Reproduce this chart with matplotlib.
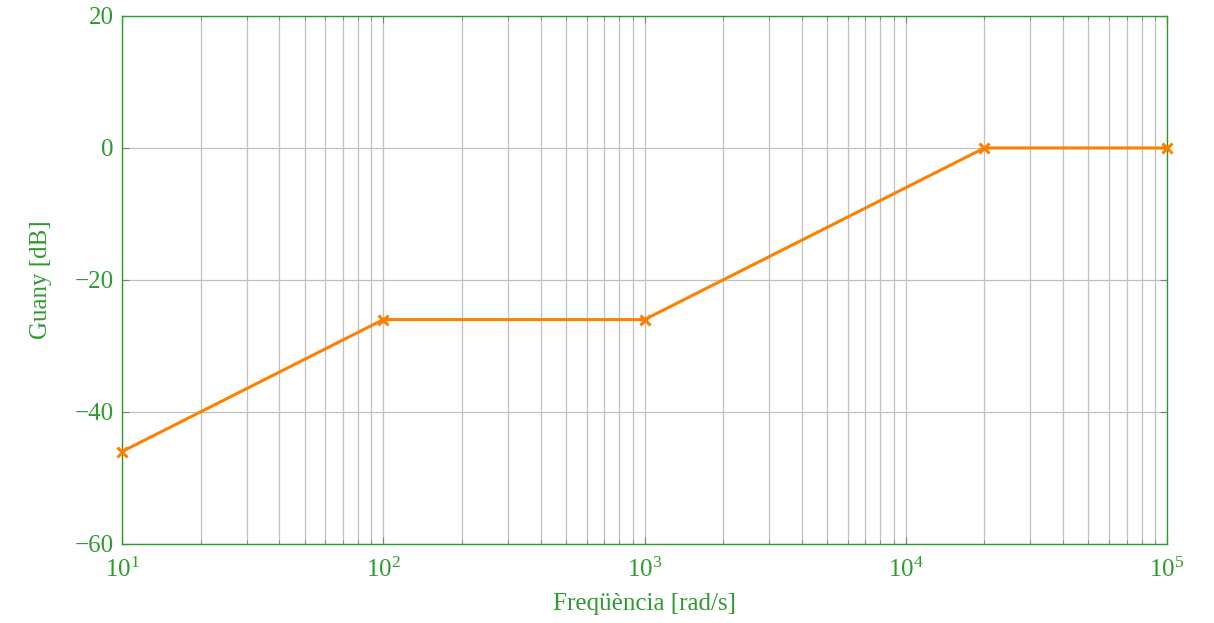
import matplotlib
matplotlib.use("Agg")
import matplotlib.pyplot as plt
from matplotlib.ticker import LogLocator, MultipleLocator

freq = [10, 100, 1000, 20000, 100000]
gain_db = [-46, -26, -26, 0, 0]

green = "#2f9a2f"
orange = "#ff8000"

plt.rcParams["font.family"] = ["Liberation Serif", "DejaVu Serif"]
plt.rcParams["mathtext.fontset"] = "custom"
plt.rcParams["mathtext.rm"] = "Liberation Serif"
plt.rcParams["mathtext.it"] = "Liberation Serif:italic"

fig = plt.figure(figsize=(12.14, 6.23), dpi=100)
ax = fig.add_axes([122 / 1214, 1 - 544 / 623, (1167 - 122) / 1214, (544 - 16) / 623])

ax.plot(freq, gain_db, color=orange, lw=2.2, marker="x", ms=7, mew=2.2, zorder=3, clip_on=False)

ax.set_xscale("log")
ax.set_xlim(10, 1e5)
ax.set_ylim(-60, 20)
ax.yaxis.set_major_locator(MultipleLocator(20))
ax.xaxis.set_major_locator(LogLocator(base=10))
ax.xaxis.set_minor_locator(LogLocator(base=10, subs=range(2, 10)))

ax.grid(True, which="major", color="#c0c0c0", lw=0.9)
ax.grid(True, which="minor", axis="x", color="#c0c0c0", lw=0.9)

for s in ax.spines.values():
    s.set_color(green)
    s.set_linewidth(1.0)

ax.tick_params(which="both", direction="in", color="#808080", labelcolor=green,
               labelsize=18, top=True, right=True)
ax.tick_params(which="major", length=5)
ax.tick_params(which="minor", length=3)
ax.tick_params(axis="x", pad=10)
ax.tick_params(axis="y", pad=6)

ax.set_xlabel("Freqüència [rad/s]", color=green, fontsize=18, labelpad=8)
ax.set_ylabel("Guany [dB]", color=green, fontsize=18, labelpad=16)

fig.savefig("out.png", dpi=100)
